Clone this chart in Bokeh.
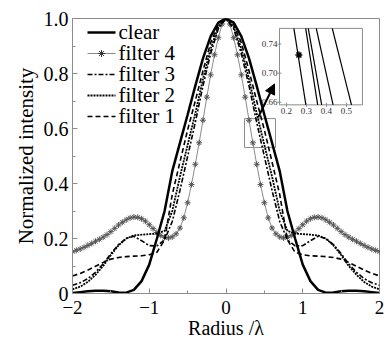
import numpy as np
from bokeh.plotting import figure
from bokeh.models import Range1d, FixedTicker, Arrow, NormalHead
from bokeh.embed import file_html
from bokeh.resources import INLINE
from bokeh.core.properties import value

# ---------------- data ----------------
radius = [-2.0, -1.9, -1.8, -1.7, -1.6, -1.5, -1.4, -1.3, -1.2, -1.1, -1.0,
          -0.9, -0.8, -0.7, -0.6, -0.5, -0.4, -0.3, -0.2, -0.1, 0.0,
          0.1, 0.2, 0.3, 0.4, 0.5, 0.6, 0.7, 0.8, 0.9, 1.0,
          1.1, 1.2, 1.3, 1.4, 1.5, 1.6, 1.7, 1.8, 1.9, 2.0]

clear = [0.002, 0.005, 0.008, 0.010, 0.010, 0.008, 0.004, 0.003, 0.013, 0.045, 0.105,
         0.200, 0.300, 0.445, 0.548, 0.650, 0.755, 0.855, 0.935, 0.985, 1.000,
         0.985, 0.935, 0.855, 0.755, 0.650, 0.548, 0.445, 0.300, 0.200, 0.105,
         0.045, 0.013, 0.003, 0.004, 0.008, 0.010, 0.010, 0.008, 0.005, 0.002]

filter1 = [0.064, 0.073, 0.085, 0.099, 0.113, 0.125, 0.131, 0.134, 0.136, 0.137, 0.141,
           0.150, 0.195, 0.360, 0.478, 0.595, 0.700, 0.810, 0.912, 0.978, 1.000,
           0.978, 0.912, 0.810, 0.700, 0.595, 0.478, 0.360, 0.195, 0.150, 0.141,
           0.137, 0.136, 0.134, 0.131, 0.125, 0.113, 0.099, 0.085, 0.073, 0.064]

filter2 = [0.015, 0.025, 0.042, 0.068, 0.100, 0.140, 0.175, 0.200, 0.211, 0.214, 0.216,
           0.218, 0.228, 0.300, 0.425, 0.540, 0.655, 0.780, 0.890, 0.970, 1.000,
           0.970, 0.890, 0.780, 0.655, 0.540, 0.425, 0.300, 0.228, 0.218, 0.216,
           0.214, 0.211, 0.200, 0.175, 0.140, 0.100, 0.068, 0.042, 0.025, 0.015]

filter3 = [0.030, 0.039, 0.054, 0.077, 0.108, 0.145, 0.178, 0.200, 0.208, 0.192, 0.174,
           0.173, 0.195, 0.262, 0.375, 0.498, 0.622, 0.755, 0.872, 0.963, 1.000,
           0.963, 0.872, 0.755, 0.622, 0.498, 0.375, 0.262, 0.195, 0.173, 0.174,
           0.192, 0.208, 0.200, 0.178, 0.145, 0.108, 0.077, 0.054, 0.039, 0.030]

radius_f4 = [-2.0, -1.95, -1.9, -1.85, -1.8, -1.75, -1.7, -1.65, -1.6, -1.55, -1.5,
             -1.45, -1.4, -1.35, -1.3, -1.25, -1.2, -1.15, -1.1, -1.05, -1.0,
             -0.95, -0.9, -0.85, -0.8, -0.75, -0.7, -0.65, -0.6, -0.55, -0.5,
             -0.45, -0.4, -0.35, -0.3, -0.25, -0.2, -0.15, -0.1, -0.05, 0.0,
             0.05, 0.1, 0.15, 0.2, 0.25, 0.3, 0.35, 0.4, 0.45, 0.5,
             0.55, 0.6, 0.65, 0.7, 0.75, 0.8, 0.85, 0.9, 0.95, 1.0,
             1.05, 1.1, 1.15, 1.2, 1.25, 1.3, 1.35, 1.4, 1.45, 1.5,
             1.55, 1.6, 1.65, 1.7, 1.75, 1.8, 1.85, 1.9, 1.95, 2.0]

filter4 = [0.152, 0.157, 0.162, 0.168, 0.175, 0.182, 0.190, 0.197, 0.205, 0.214, 0.225,
           0.237, 0.249, 0.259, 0.268, 0.275, 0.278, 0.277, 0.272, 0.263, 0.250,
           0.236, 0.222, 0.211, 0.204, 0.202, 0.206, 0.217, 0.238, 0.275, 0.330,
           0.396, 0.470, 0.548, 0.630, 0.714, 0.795, 0.868, 0.930, 0.980, 1.000,
           0.980, 0.930, 0.868, 0.795, 0.714, 0.630, 0.548, 0.470, 0.396, 0.330,
           0.275, 0.238, 0.217, 0.206, 0.202, 0.204, 0.211, 0.222, 0.236, 0.250,
           0.263, 0.272, 0.277, 0.278, 0.275, 0.268, 0.259, 0.249, 0.237, 0.225,
           0.214, 0.205, 0.197, 0.190, 0.182, 0.175, 0.168, 0.162, 0.157, 0.152]

series_labels = ["clear", "filter 4", "filter 3", "filter 2", "filter 1"]

x_ticks = [-2, -1, 0, 1, 2]
x_tick_labels = ["\u22122", "\u22121", "0", "1", "2"]
x_minor = [-1.5, -0.5, 0.5, 1.5]
y_ticks = [0, 0.2, 0.4, 0.6, 0.8, 1.0]
y_tick_labels = ["0", "0.2", "0.4", "0.6", "0.8", "1.0"]
y_minor = [0.1, 0.3, 0.5, 0.7, 0.9]

# inset (magnified view)
inset_x_range = [0.165, 0.58]
inset_y_range = [0.6564, 0.7617]
inset_x_top = [0.237, 0.296, 0.309, 0.349, 0.429]
inset_x_bottom = [0.297, 0.356, 0.376, 0.433, 0.525]
inset_marker_x = [0.262]
inset_marker_y = [0.725]
inset_x_ticks = [0.2, 0.3, 0.4, 0.5]
inset_x_tick_labels = ["0.2", "0.3", "0.4", "0.5"]
inset_y_ticks = [0.66, 0.70, 0.74]
inset_y_tick_labels = ["0.66", "0.70", "0.74"]

# zoom box and arrow in main data coordinates
zoom_box_x = [0.241, 0.645]
zoom_box_y = [0.531, 0.636]
arrow_x = [0.42, 0.632]
arrow_y = [0.641, 0.762]

FONT = "Liberation Serif"
GREY = "#8c8c8c"

p = figure(width=387, height=342, output_backend="svg", toolbar_location=None,
           x_range=Range1d(-2, 2), y_range=Range1d(0, 1.0),
           min_border_left=72, min_border_right=8, min_border_top=18, min_border_bottom=49)
p.background_fill_color = "white"
p.border_fill_color = "white"
p.outline_line_color = GREY
p.outline_line_width = 1
p.grid.visible = False

p.xaxis.ticker = FixedTicker(ticks=x_ticks, minor_ticks=x_minor)
p.xaxis.major_label_overrides = {t: l for t, l in zip(x_ticks, x_tick_labels)}
p.yaxis.ticker = FixedTicker(ticks=y_ticks, minor_ticks=y_minor)
p.yaxis.major_label_overrides = {t: l for t, l in zip(y_ticks, y_tick_labels)}
p.xaxis.axis_label = "Radius /\u03bb"
p.yaxis.axis_label = "Normalized intensity"

for ax in (p.xaxis[0], p.yaxis[0]):
    ax.major_tick_in = 5
    ax.major_tick_out = 0
    ax.minor_tick_in = 3
    ax.minor_tick_out = 0
    ax.axis_line_color = GREY
    ax.major_tick_line_color = GREY
    ax.minor_tick_line_color = GREY
    ax.major_label_text_font = FONT
    ax.major_label_text_font_size = "20px"
    ax.major_label_text_color = "black"
    ax.axis_label_text_font = FONT
    ax.axis_label_text_font_size = "21px"
    ax.axis_label_text_font_style = "normal"
    ax.axis_label_text_color = "black"

p.xaxis.major_label_text_font_size = "19px"
p.xaxis.axis_label_text_font_size = "20px"
p.xaxis.major_label_standoff = 7
p.xaxis.axis_label_standoff = 0
p.yaxis.major_label_standoff = 4
p.yaxis.axis_label_standoff = 3

# zoom box + arrow
p.quad(left=[zoom_box_x[0]], right=[zoom_box_x[1]], bottom=[zoom_box_y[0]], top=[zoom_box_y[1]],
       fill_alpha=0, line_color=GREY, line_width=1)

# curves
STY = {
    "clear": dict(line_color="black", line_width=2.5),
    "filter 4": dict(line_color="#8a8a8a", line_width=1),
    "filter 3": dict(line_color="black", line_width=1.6, line_dash="5 2 2 2"),
    "filter 2": dict(line_color="black", line_width=1.8, line_dash="2 1"),
    "filter 1": dict(line_color="black", line_width=1.6, line_dash="5 3"),
}
MARK = dict(marker="asterisk", size=6, line_color="#555555", line_width=1)

p.line(radius_f4, filter4, **STY["filter 4"])
p.scatter(radius_f4, filter4, **MARK)
p.line(radius, filter3, **STY["filter 3"])
p.line(radius, filter2, **STY["filter 2"])
p.line(radius, filter1, **STY["filter 1"])
p.line(radius, clear, **STY["clear"])

p.add_layout(Arrow(x_start=arrow_x[0], y_start=arrow_y[0], x_end=arrow_x[1], y_end=arrow_y[1],
                   line_width=2, line_color="black",
                   end=NormalHead(size=10, fill_color="black", line_color="black")))

# ---------------- inset ----------------
sub = p.subplot(x_source=Range1d(inset_x_range[0], inset_x_range[1]),
                y_source=Range1d(inset_y_range[0], inset_y_range[1]),
                x_target=Range1d(0.697, 1.778), y_target=Range1d(0.686, 0.964))
sub.quad(left=[inset_x_range[0]], right=[inset_x_range[1]],
         bottom=[inset_y_range[0]], top=[inset_y_range[1]],
         fill_color="white", line_color=GREY, line_width=1)
sub.segment(x0=inset_x_top, y0=[inset_y_range[1]] * len(inset_x_top),
            x1=inset_x_bottom, y1=[inset_y_range[0]] * len(inset_x_bottom),
            line_color="black", line_width=1.2)
sub.scatter(x=inset_marker_x, y=inset_marker_y, marker="asterisk", size=7,
            line_color="black", line_width=1.5)
sub.scatter(x=inset_x_ticks, y=[inset_y_range[0]] * len(inset_x_ticks), marker="dash",
            angle=np.pi / 2, size=4, line_color=GREY)
sub.scatter(x=[inset_x_range[0]] * len(inset_y_ticks), y=inset_y_ticks, marker="dash",
            size=4, line_color=GREY)
sub.text(x=inset_x_ticks, y=[inset_y_range[0]] * len(inset_x_ticks), text=inset_x_tick_labels,
         text_font=value(FONT), text_font_size="9px", text_align="center",
         text_baseline="top", y_offset=3, text_color="#333333")
sub.text(x=[inset_x_range[0]] * len(inset_y_ticks), y=inset_y_ticks, text=inset_y_tick_labels,
         text_font=value(FONT), text_font_size="9px", text_align="right",
         text_baseline="middle", x_offset=-2, text_color="#333333")

# ---------------- legend (own small coordinate frame) ----------------
n_items = len(series_labels)
leg = p.subplot(x_source=Range1d(0, 1), y_source=Range1d(-0.5, n_items - 0.5),
                x_target=Range1d(-1.8046, -1.4397), y_target=Range1d(0.6055, 0.9873))
for i, lab in enumerate(series_labels):
    row = n_items - 1 - i
    leg.line([0, 1], [row, row], **STY[lab])
    if lab == "filter 4":
        leg.scatter([0.5], [row], **dict(MARK, line_color="#333333", size=7))
leg.text(x=[1] * n_items, y=[n_items - 1 - i for i in range(n_items)], text=series_labels,
         text_font=value(FONT), text_font_size="21px", text_align="left",
         text_baseline="middle", x_offset=3, text_color="black")

open("out.html", "w").write(file_html(p, INLINE))
